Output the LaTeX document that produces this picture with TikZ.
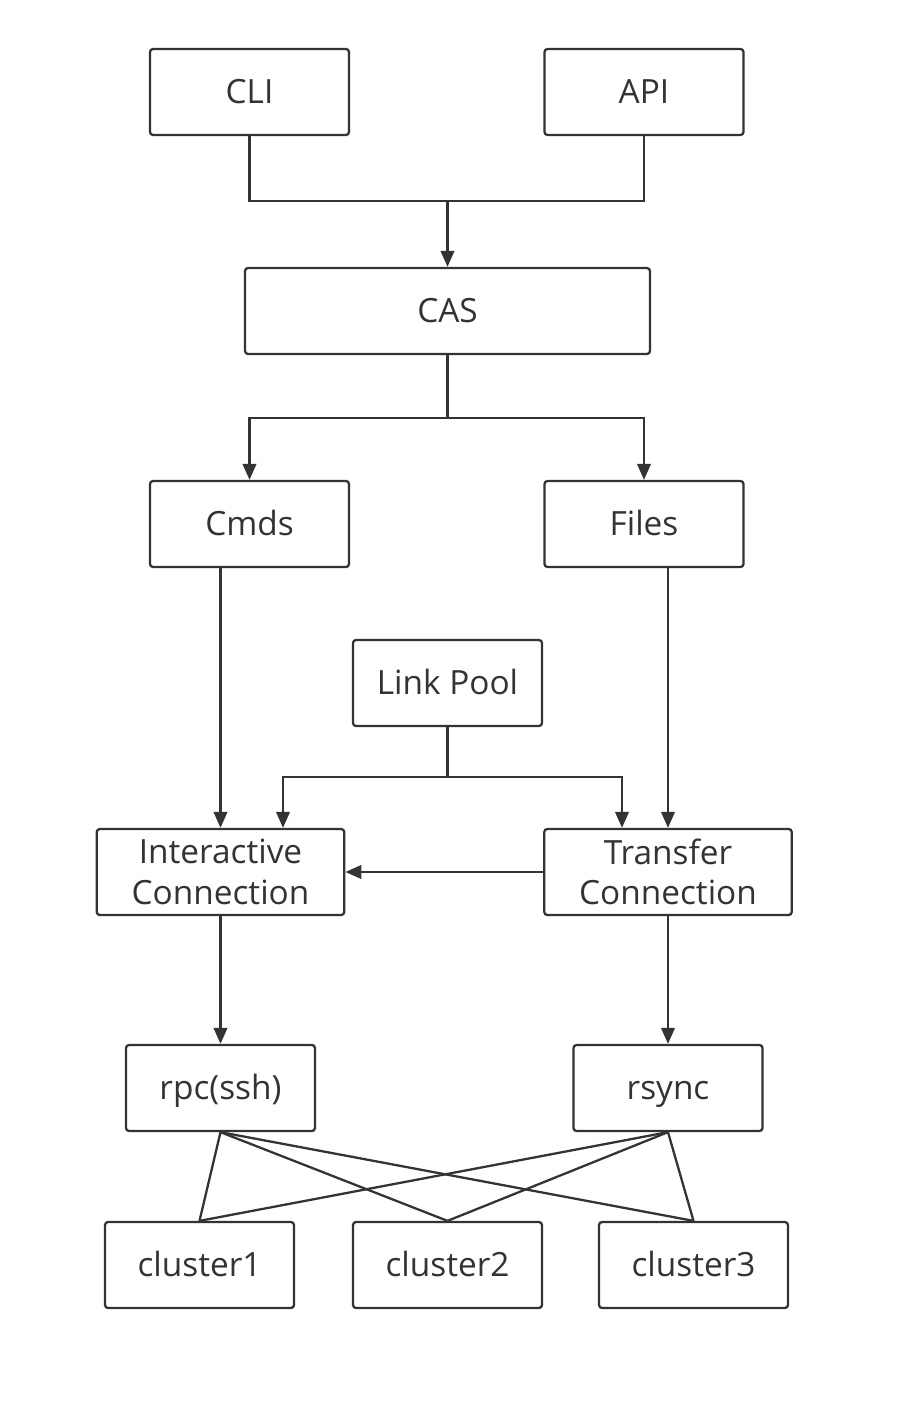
\documentclass[tikz,border=0pt]{standalone}
\usepackage{fontspec}
\setmainfont{Open Sans}
\usepackage{tikz}
\usetikzlibrary{arrows.meta}
\definecolor{ink}{HTML}{333333}

\begin{document}
\begin{tikzpicture}[
    x=0.02cm, y=-0.02cm,
    box/.style={rectangle, rounded corners=0.06cm, draw=ink, line width=1.3pt, text=ink, align=center, minimum height=1.72cm, inner sep=0pt, font=\fontsize{19}{23}\selectfont},
    single/.style={box, text height=18pt, text depth=4.4pt},
    wide/.style={single, minimum width=3.98cm},
    narrow/.style={single, minimum width=3.78cm},
    conn/.style={box, minimum width=4.95cm},
    line/.style={draw=ink, line width=1.3pt},
    arrow/.style={line, -{Triangle[length=0.32cm, width=0.27cm]}}
]
\useasboundingbox (0,0) rectangle (898,1426);

% Entry points
\node[wide] (cli) at (249.5,92) {CLI};
\node[wide] (api) at (644,92) {API};

% Core
\node[single, minimum width=8.1cm] (cas) at (447.5,311) {CAS};

% Tasks
\node[wide] (cmds) at (249.5,524) {Cmds};
\node[wide] (files) at (644,524) {Files};

% Pool
\node[narrow] (pool) at (447.5,683) {Link Pool};

% Connections
\node[conn] (inter) at (220.5,872) {Interactive\\Connection};
\node[conn] (trans) at (668,872) {Transfer\\Connection};

% Protocols
\node[narrow] (rpc) at (220.5,1088) {rpc(ssh)};
\node[narrow] (rsync) at (668,1088) {rsync};

% Clusters
\node[narrow] (cluster1) at (199.5,1265) {cluster1};
\node[narrow] (cluster2) at (447.5,1265) {cluster2};
\node[narrow] (cluster3) at (693.5,1265) {cluster3};

% Junctions
\coordinate (join) at (447.5,201);
\coordinate (split) at (447.5,418);
\coordinate (poolsplit) at (447.5,777);

% Arrows
\draw[line] (cli.south) |- (join) -| (api.south);
\draw[arrow] (join) -- (cas.north);
\draw[line] (cas.south) -- (split);
\draw[arrow] (split) -| (cmds.north);
\draw[arrow] (split) -| (files.north);
\draw[arrow] (cmds.south -| inter.north) -- (inter.north);
\draw[arrow] (files.south -| trans.north) -- (trans.north);
\draw[line] (pool.south) -- (poolsplit);
\draw[arrow] (poolsplit) -| ([xshift=1.25cm]inter.north);
\draw[arrow] (poolsplit) -| ([xshift=-0.92cm]trans.north);
\draw[arrow] (trans.west) -- (inter.east);
\draw[arrow] (inter.south) -- (rpc.north);
\draw[arrow] (trans.south) -- (rsync.north);
\foreach \c in {cluster1,cluster2,cluster3} {
    \draw[line] (rpc.south) -- (\c.north);
    \draw[line] (rsync.south) -- (\c.north);
}
\end{tikzpicture}
\end{document}
